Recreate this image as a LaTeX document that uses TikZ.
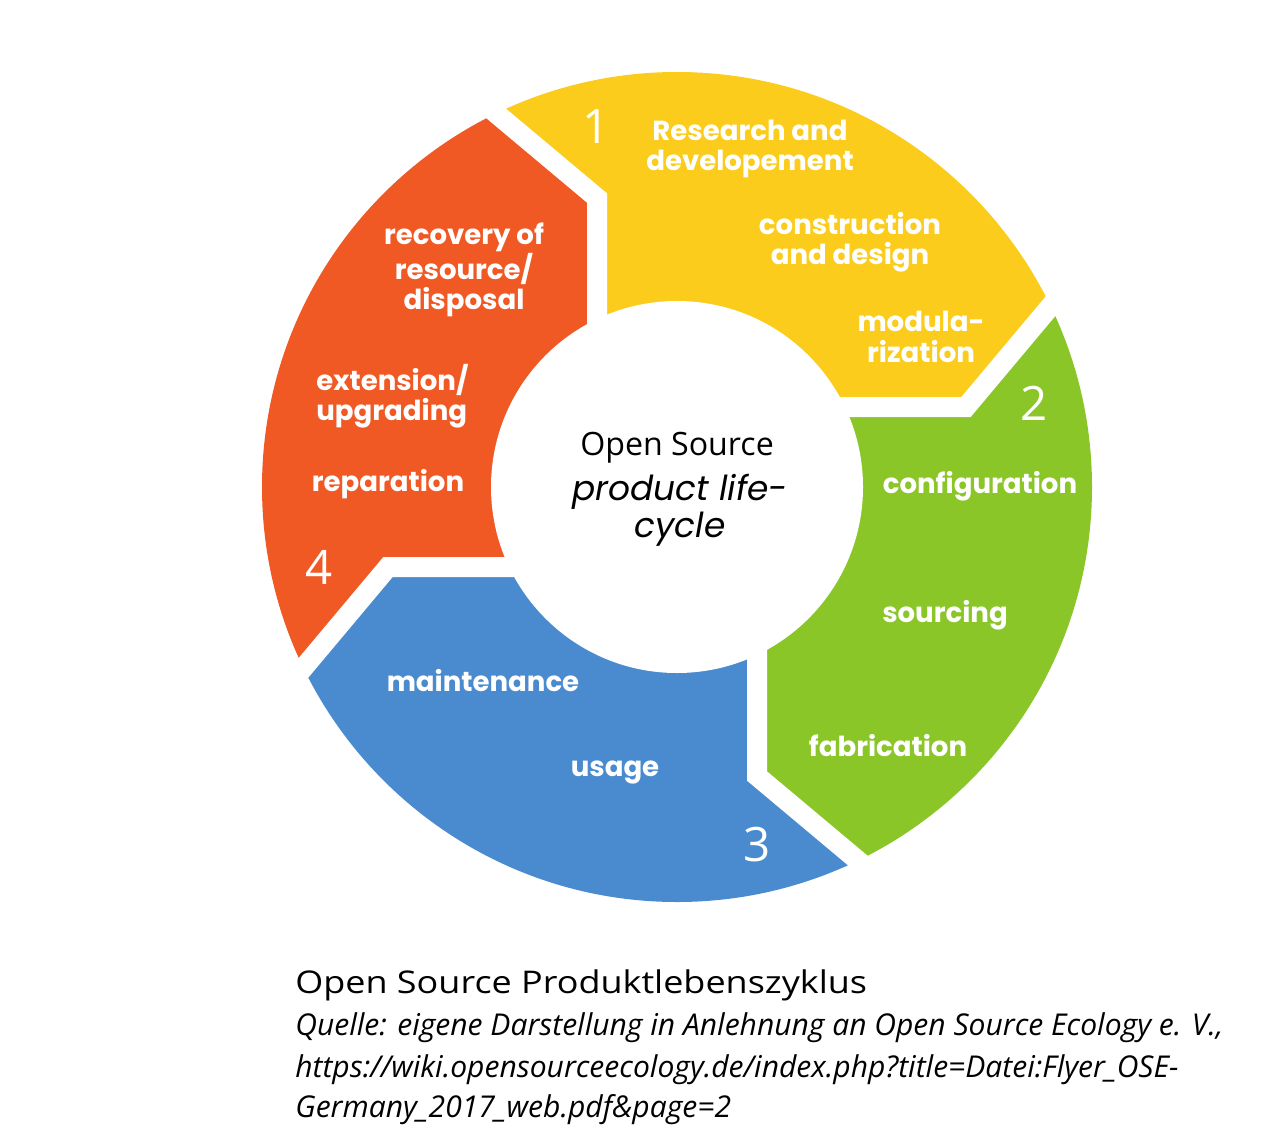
\documentclass[tikz,border=0pt]{standalone}
\usepackage{fontspec}
\setmainfont{Open Sans}
\newfontfamily\labf{Poppins}
\definecolor{cyel}{RGB}{251,204,27}
\definecolor{cgrn}{RGB}{138,198,40}
\definecolor{cblu}{RGB}{74,139,207}
\definecolor{cred}{RGB}{240,89,36}
\tikzset{
  lab/.style={text=white, font=\labf\bfseries\fontsize{15.7pt}{17.3pt}\selectfont, align=center, inner sep=0pt},
  numlab/.style={text=white, font=\fontsize{27pt}{30pt}\selectfont, inner sep=0pt},
  gapline/.style={white, line width=0.4cm, miter limit=10},
  quelle/.style={anchor=base west, inner sep=0pt, font=\itshape\fontsize{17.1pt}{20pt}\selectfont},
}
\begin{document}
\begin{tikzpicture}[x=0.02cm,y=-0.02cm]
\useasboundingbox (0,0) rectangle (1280,1146);
% yellow
\begin{scope}
\clip (677,487) -- (597,337) -- (597,198) -- (448.5,73.5) -- (448.5,-100) -- (1300,-100) -- (1300,258.5) -- (1090.5,258.5) -- (966,407) -- (827,407) -- cycle;
\fill[cyel] (677,487) circle[radius=415];
\end{scope}
% green
\begin{scope}
\clip (677,487) -- (827,407) -- (966,407) -- (1090.5,258.5) -- (1300,258.5) -- (1300,1300) -- (905.5,1300) -- (905.5,900.5) -- (757,776) -- (757,637) -- cycle;
\fill[cgrn] (677,487) circle[radius=415];
\end{scope}
% blue
\begin{scope}
\clip (677,487) -- (757,637) -- (757,776) -- (905.5,900.5) -- (905.5,1300) -- (-100,1300) -- (-100,715.5) -- (263.5,715.5) -- (388,567) -- (527,567) -- cycle;
\fill[cblu] (677,487) circle[radius=415];
\end{scope}
% red
\begin{scope}
\clip (677,487) -- (527,567) -- (388,567) -- (263.5,715.5) -- (-100,715.5) -- (-100,-100) -- (448.5,-100) -- (448.5,73.5) -- (597,198) -- (597,337) -- cycle;
\fill[cred] (677,487) circle[radius=415];
\end{scope}
% gaps
\draw[gapline] (827,407) -- (966,407) -- (1090.5,258.5);
\draw[gapline] (757,637) -- (757,776) -- (905.5,900.5);
\draw[gapline] (527,567) -- (388,567) -- (263.5,715.5);
\draw[gapline] (597,337) -- (597,198) -- (448.5,73.5);
\fill[white] (677,487) circle[radius=186];
% numbers
\node[numlab] (n1) at (596,127) {1};
\node[numlab] (n2) at (1034,403) {2};
\node[numlab] (n3) at (757,845) {3};
\node[numlab] (n4) at (319,567) {4};
% labels
\node[lab] (rd) at (750,149) {Research and\\developement};
\node[lab] (cd) at (850,242) {construction\\and design};
\node[lab] (mo) at (921,337) {modula-\\rization};
\node[lab] (co) at (980,486) {configuration};
\node[lab] (so) at (945,615) {sourcing};
\node[lab] (fa) at (888,746) {fabrication};
\node[lab] (us) at (615,772) {usage};
\node[lab] (ma) at (483,681) {maintenance};
\node[lab] (re) at (388,484) {reparation};
\node[lab, align=left, anchor=west] (ex) at (316,396) {extension/\\upgrading};
\node[lab] (rc) at (464,270) {recovery of\\resource/\\disposal};
% center
\node[inner sep=0pt, font=\fontsize{18.3pt}{20pt}\selectfont] (os) at (677,448) {Open Source};
\node[inner sep=0pt, align=center, font=\labf\itshape\fontsize{19.6pt}{21pt}\selectfont] (pl) at (680,510) {product life-\\cycle};
% caption
\node[anchor=base west, inner sep=0pt, font=\fontsize{17.8pt}{22pt}\selectfont] (cap) at (295,993) {\scalebox{1.15}[1]{Open Source Produktlebenszyklus}};
\node[quelle] (q1) at (295,1035) {Quelle: eigene Darstellung in Anlehnung an Open Source Ecology e. V.,};
\node[quelle] (q2) at (295,1077) {https://wiki.opensourceecology.de/index.php?title=Datei:Flyer\_OSE-};
\node[quelle] (q3) at (295,1117) {Germany\_2017\_web.pdf\&page=2};
\end{tikzpicture}
\end{document}
